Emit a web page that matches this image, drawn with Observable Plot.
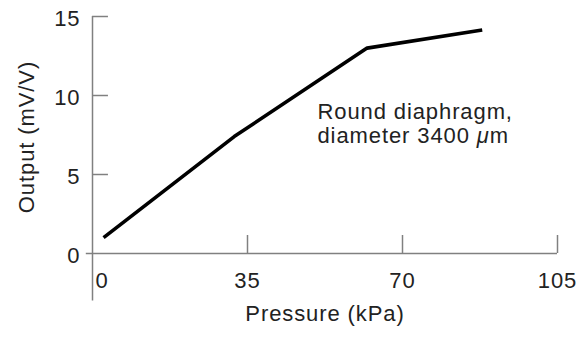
<!DOCTYPE html>
<html>
<head>
<meta charset="utf-8">
<script src="https://cdn.jsdelivr.net/npm/d3@7"></script>
<script src="https://cdn.jsdelivr.net/npm/@observablehq/plot@0.6"></script>
<style>
  html, body { margin: 0; padding: 0; background: #fff; }
  #chart svg { display: block; }
  #chart svg text { letter-spacing: 0.9px; }
</style>
</head>
<body>
<div id="chart"></div>
<script>
// Data
const pressure = [2.5, 32, 62, 88];        // kPa
const output   = [1.0, 7.4, 13.0, 14.15];  // mV/V
const xTicks = [0, 35, 70, 105];
const yTicks = [0, 5, 10, 15];
const xLabel = "Pressure (kPa)";
const yLabel = "Output (mV/V)";
const noteLines = ["Round diaphragm,", "diameter 3400 μm"];

const data = pressure.map((p, i) => ({p, o: output[i]}));
const axisColor = "#808080";
const textColor = "#222";
const font = "'Liberation Sans', Arial, Helvetica, sans-serif";

const chart = Plot.plot({
  width: 577,
  height: 337,
  marginLeft: 92,
  marginRight: 20,
  marginTop: 16,
  marginBottom: 84,
  style: {fontFamily: font, fontSize: "22px", color: textColor, background: "#fff"},
  x: {domain: [0, 105], axis: null},
  y: {domain: [0, 15], axis: null},
  marks: [
    // axis lines
    Plot.ruleX([0], {y1: -3, y2: 15, stroke: axisColor, strokeWidth: 1.5}),
    Plot.ruleY([0], {x1: -1.4, x2: 105, stroke: axisColor, strokeWidth: 1.5}),
    // y ticks (pointing right)
    Plot.ruleY(yTicks.filter(d => d > 0), {x1: 0, x2: 3.6, stroke: axisColor, strokeWidth: 1.5}),
    // x ticks (pointing up)
    Plot.ruleX(xTicks.filter(d => d > 0), {y1: 0, y2: 1.14, stroke: axisColor, strokeWidth: 1.5}),
    // y tick labels
    Plot.text(yTicks, {x: 0, y: d => d, text: d => String(d), dx: -12, dy: 2, textAnchor: "end", fill: textColor, fontSize: 22}),
    // x tick labels
    Plot.text(xTicks.filter(d => d > 0), {x: d => d, y: 0, text: d => String(d), dy: 27, fill: textColor, fontSize: 22}),
    Plot.text(xTicks.filter(d => d === 0), {x: d => d, y: 0, text: d => String(d), dx: 3, dy: 27, textAnchor: "start", fill: textColor, fontSize: 22}),
    // axis titles
    Plot.text([xLabel], {frameAnchor: "bottom", text: d => d, dy: 67, textAnchor: "middle", fill: textColor, fontSize: 22}),
    Plot.text([yLabel], {frameAnchor: "left", text: d => d, dx: -66, dy: 2, rotate: -90, textAnchor: "middle", fill: textColor, fontSize: 22}),
    // data line
    Plot.line(data, {x: "p", y: "o", stroke: "#000", strokeWidth: 3.6, strokeLinejoin: "round", strokeLinecap: "butt"}),
    // annotation
    Plot.text([noteLines.join("\n")], {x: 50.8, y: 9.6, text: d => d, textAnchor: "start", lineAnchor: "top", lineHeight: 1.1, fill: textColor, fontSize: 22})
  ]
});

// Italicize the micro sign (math mu) in the annotation
chart.querySelectorAll("tspan, text").forEach(el => {
  if (el.childNodes.length === 1 && el.firstChild.nodeType === 3 && el.textContent.includes("μ")) {
    const s = el.textContent;
    const i = s.indexOf("μ");
    el.textContent = "";
    const ns = "http://www.w3.org/2000/svg";
    el.appendChild(document.createTextNode(s.slice(0, i)));
    const mu = document.createElementNS(ns, "tspan");
    mu.setAttribute("font-style", "italic");
    mu.textContent = "μ";
    el.appendChild(mu);
    el.appendChild(document.createTextNode(s.slice(i + 1)));
  }
});

document.getElementById("chart").appendChild(chart);
</script>
</body>
</html>
